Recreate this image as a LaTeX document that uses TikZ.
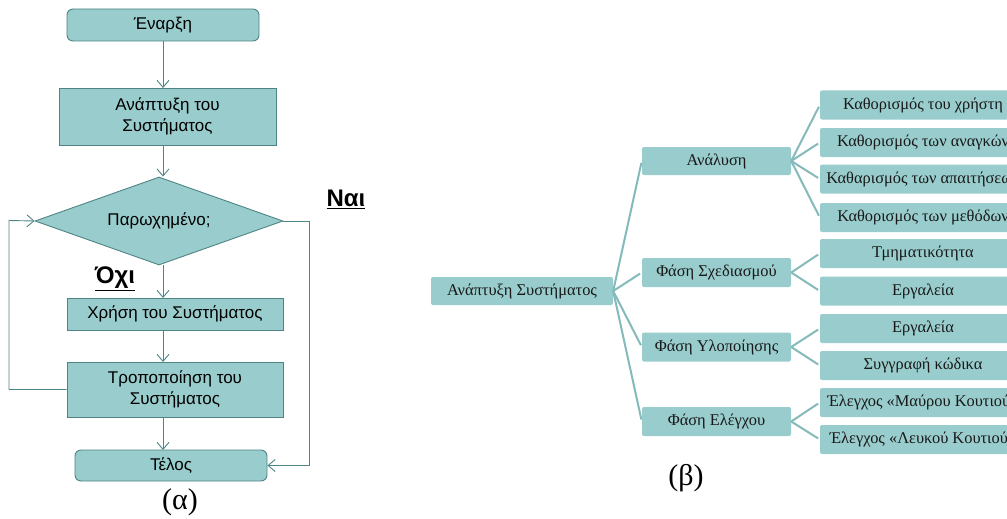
\documentclass[tikz,border=0pt]{standalone}
\usepackage{fontspec}
\setmainfont{Liberation Serif}
\newfontfamily\arialf{Liberation Sans}
\usetikzlibrary{shapes.geometric,arrows.meta}
\definecolor{boxfill}{HTML}{99CCCC}
\definecolor{boxline}{HTML}{4F8585}
\definecolor{treeline}{HTML}{86BABA}
\tikzset{
  flowline/.style={draw=boxline, line width=0.9pt, -{Straight Barb[length=7pt,width=12pt,line width=0.9pt]}},
  flowbox/.style={draw=boxline, fill=boxfill, line width=0.9pt, inner sep=0pt, font=\arialf\fontsize{17}{21}\selectfont, align=center},
  termbox/.style={flowbox, rounded corners=6pt},
  decision/.style={flowbox, diamond, aspect=2.8},
  anslabel/.style={font=\arialf\bfseries\fontsize{24}{28}\selectfont},
  treebox/.style={fill=boxfill, rounded corners=2pt, inner sep=0pt, font=\fontsize{16.4}{19}\selectfont, text=black!90},
  treeedge/.style={draw=treeline, line width=2pt, shorten >=2pt},
  caption/.style={font=\fontsize{30}{34}\selectfont}
}
\begin{document}
\begin{tikzpicture}[x=1pt,y=-1pt]
\useasboundingbox (0,0) rectangle (1007,519);
\clip (0,0) rectangle (1007,519);

% ---- flowchart (a) ----
\node[termbox, minimum width=192pt, minimum height=32pt] (start) at (163,25) {Έναρξη};
\node[flowbox, minimum width=217pt, minimum height=57pt] (dev) at (167.5,116.5) {Ανάπτυξη του\\Συστήματος};
\node[decision, minimum width=248pt, minimum height=88pt] (dec) at (159,221) {Παρωχημένο;};
\node[flowbox, minimum width=216pt, minimum height=32pt] (use) at (175,314) {Χρήση του Συστήματος};
\node[flowbox, minimum width=216pt, minimum height=55pt] (mod) at (175,389.5) {Τροποποίηση του\\Συστήματος};
\node[termbox, minimum width=192pt, minimum height=31pt] (end) at (171,465.5) {Τέλος};

\node[anslabel] (no) at (115,279) {\underline{Όχι}};
\node[anslabel] (yes) at (346,199) {\underline{Ναι}};

\coordinate (loopA) at (9,389.5);
\coordinate (loopB) at (9,220.5);
\coordinate (yesA) at (309,221);
\coordinate (yesB) at (309,465.5);

\draw[flowline] (start.south -| 163,0) -- (163,88);
\draw[flowline] (163,145) -- (dec.north -| 163,0);
\draw[flowline] (163,265) -- (163,298);
\draw[flowline] (163,330) -- (163,362);
\draw[flowline] (163,417) -- (163,450);
\draw[flowline] (mod.west) -- (loopA) -- (loopB) -- (dec.west);
\draw[flowline] (dec.east) -- (yesA) -- (yesB) -- (end.east);

\node[caption] (capa) at (180,502) {(α)};

% ---- tree (b) ----
\node[treebox, minimum width=182pt, minimum height=28pt] (root) at (522,291) {Ανάπτυξη Συστήματος};

\node[treebox, minimum width=149pt, minimum height=28pt] (an) at (716.5,161) {Ανάλυση};
\node[treebox, minimum width=149pt, minimum height=29pt] (des) at (716.5,272.5) {Φάση Σχεδιασμού};
\node[treebox, minimum width=149pt, minimum height=29pt] (imp) at (716.5,347) {Φάση Υλοποίησης};
\node[treebox, minimum width=149pt, minimum height=29pt] (tst) at (716.5,421.5) {Φάση Ελέγχου};

\node[treebox, minimum width=206pt, minimum height=29pt] (l1) at (923,105) {Καθορισμός του χρήστη};
\node[treebox, minimum width=206pt, minimum height=29pt] (l2) at (923,142.5) {Καθορισμός των αναγκών};
\node[treebox, minimum width=206pt, minimum height=29pt] (l3) at (923,179) {Καθαρισμός των απαιτήσεων};
\node[treebox, minimum width=206pt, minimum height=29pt] (l4) at (923,217.5) {Καθορισμός των μεθόδων};
\node[treebox, minimum width=206pt, minimum height=29pt] (l5) at (923,253.5) {Τμηματικότητα};
\node[treebox, minimum width=206pt, minimum height=29pt] (l6) at (923,291) {Εργαλεία};
\node[treebox, minimum width=206pt, minimum height=29pt] (l7) at (923,328.5) {Εργαλεία};
\node[treebox, minimum width=206pt, minimum height=29pt] (l8) at (923,365.5) {Συγγραφή κώδικα};
\node[treebox, minimum width=206pt, minimum height=29pt] (l9) at (923,402.5) {Έλεγχος «Μαύρου Κουτιού»};
\node[treebox, minimum width=206pt, minimum height=29pt] (l10) at (923,439.5) {Έλεγχος «Λευκού Κουτιού»};

\foreach \c in {an,des,imp,tst}
  \draw[treeedge] (root.east) -- (\c.west);
\foreach \c in {l1,l2,l3,l4}
  \draw[treeedge] (an.east) -- (\c.west);
\foreach \c in {l5,l6}
  \draw[treeedge] (des.east) -- (\c.west);
\foreach \c in {l7,l8}
  \draw[treeedge] (imp.east) -- (\c.west);
\foreach \c in {l9,l10}
  \draw[treeedge] (tst.east) -- (\c.west);

\node[caption] (capb) at (686,478) {(β)};
\end{tikzpicture}
\end{document}
